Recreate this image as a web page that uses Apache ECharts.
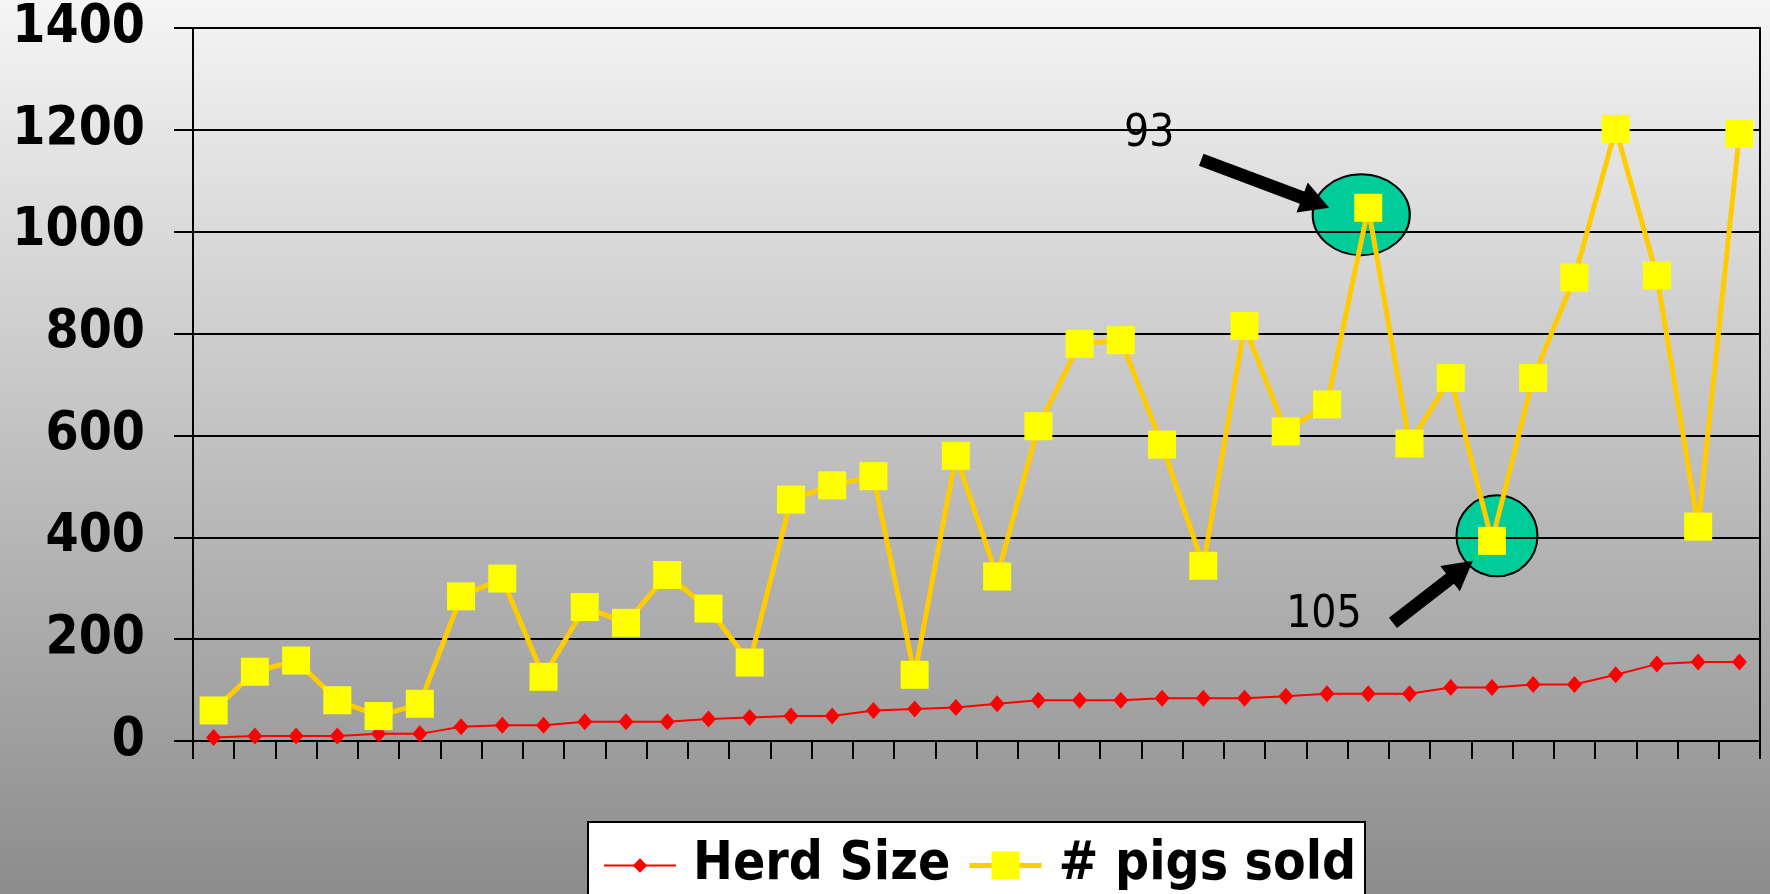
<!DOCTYPE html>
<html>
<head>
<meta charset="utf-8">
<script src="https://cdn.jsdelivr.net/npm/echarts@6/dist/echarts.min.js"></script>
<style>
  html, body { margin: 0; padding: 0; }
  #main {
    width: 1770px;
    height: 894px;
    background: linear-gradient(to bottom, #f5f5f5, #8c8c8c);
  }
</style>
</head>
<body>
<div id="main"></div>
<script>
// one category per sale period (38 of them, unlabelled on the axis)
const periods = ['1', '2', '3', '4', '5', '6', '7', '8', '9', '10',
  '11', '12', '13', '14', '15', '16', '17', '18', '19', '20',
  '21', '22', '23', '24', '25', '26', '27', '28', '29', '30',
  '31', '32', '33', '34', '35', '36', '37', '38'];

const herdSize = [7, 10, 10, 10, 14, 14, 28, 31, 31, 38,
  38, 38, 43, 46, 49, 49, 60, 63, 66, 73,
  80, 80, 80, 84, 84, 84, 88, 93, 93, 93,
  105, 105, 111, 111, 130, 151, 155, 155];

const pigsSold = [60, 136, 158, 80, 49, 73, 284, 319, 126, 263,
  232, 326, 260, 154, 474, 502, 520, 130, 560, 323,
  618, 780, 787, 582, 344, 815, 608, 661, 1047, 584,
  713, 393, 713, 910, 1202, 914, 421, 1192];

const yTicks = [0, 200, 400, 600, 800, 1000, 1200, 1400];

// the two circled points and the herd size written beside them
const callouts = [
  { index: 28, text: '93' },
  { index: 31, text: '105' }
];

const boldFont = '"DejaVu Sans Condensed", "DejaVu Sans", sans-serif';

const chart = echarts.init(document.getElementById('main'));

const legendText = {
  fontSize: 53,
  fontWeight: 'bold',
  fontFamily: boldFont,
  color: '#000',
  padding: [0, 0, 0, 12]
};

const option = {
  animation: false,
  grid: {
    left: 193,
    right: 10,
    top: 28,
    bottom: 153,
    show: true,
    borderColor: '#000',
    borderWidth: 2,
    backgroundColor: 'transparent'
  },
  legend: [
    {
      data: ['Herd Size'],
      left: 603,
      top: 839,
      padding: 0,
      itemWidth: 72,
      itemHeight: 18,
      lineStyle: { width: 2 },
      textStyle: legendText,
      z: 6
    },
    {
      data: ['# pigs sold'],
      left: 967,
      top: 839,
      padding: 0,
      itemWidth: 72,
      itemHeight: 35,
      lineStyle: { width: 5 },
      textStyle: legendText,
      z: 6
    }
  ],
  xAxis: {
    type: 'category',
    data: periods,
    boundaryGap: true,
    axisLine: { lineStyle: { color: '#000', width: 2 } },
    axisTick: { show: true, interval: 0, length: 18, lineStyle: { color: '#000', width: 2 } },
    axisLabel: { show: false },
    splitLine: { show: false }
  },
  yAxis: {
    type: 'value',
    min: yTicks[0],
    max: yTicks[yTicks.length - 1],
    interval: yTicks[1] - yTicks[0],
    axisLine: { show: true, lineStyle: { color: '#000', width: 2 } },
    axisTick: { show: true, length: 19, lineStyle: { color: '#000', width: 2 } },
    axisLabel: {
      margin: 48,
      fontSize: 53,
      fontWeight: 'bold',
      fontFamily: boldFont,
      color: '#000',
      formatter: v => String(v)
    },
    splitLine: { lineStyle: { color: '#000', width: 2 } }
  },
  series: [
    {
      name: 'Herd Size',
      type: 'line',
      data: herdSize,
      symbol: 'diamond',
      symbolSize: [15, 17],
      showAllSymbol: true,
      itemStyle: { color: '#ff0000' },
      lineStyle: { color: '#ff0000', width: 2 }
    },
    {
      name: '# pigs sold',
      type: 'line',
      data: pigsSold,
      symbol: 'rect',
      symbolSize: 28,
      showAllSymbol: true,
      itemStyle: { color: '#ffff00' },
      lineStyle: { color: '#ffcc00', width: 5 },
      markPoint: {
        z: -1,
        symbol: 'circle',
        label: { show: false },
        itemStyle: { color: '#00cc99', borderColor: '#000', borderWidth: 2 },
        data: [
          { coord: [periods[callouts[0].index], pigsSold[callouts[0].index]], symbolSize: [97, 81], symbolOffset: [-7, 7] },
          { coord: [periods[callouts[1].index], pigsSold[callouts[1].index]], symbolSize: [81, 81], symbolOffset: [5, -5] }
        ]
      }
    }
  ]
};

chart.setOption(option);

// arrow polygon from tail to tip
function arrowPoints(tail, tip) {
  const dx = tip[0] - tail[0], dy = tip[1] - tail[1];
  const len = Math.sqrt(dx * dx + dy * dy);
  const ux = dx / len, uy = dy / len;
  const nx = -uy, ny = ux;
  const shaft = 6.5, head = 16, headLen = 29;
  const bx = tip[0] - ux * headLen, by = tip[1] - uy * headLen;
  return [
    [tail[0] + nx * shaft, tail[1] + ny * shaft],
    [bx + nx * shaft, by + ny * shaft],
    [bx + nx * head, by + ny * head],
    tip,
    [bx - nx * head, by - ny * head],
    [bx - nx * shaft, by - ny * shaft],
    [tail[0] - nx * shaft, tail[1] - ny * shaft]
  ];
}

function at(p, dx, dy) {
  return [p[0] + dx, p[1] + dy];
}

const p1 = chart.convertToPixel({ gridIndex: 0 }, [periods[callouts[0].index], pigsSold[callouts[0].index]]);
const p2 = chart.convertToPixel({ gridIndex: 0 }, [periods[callouts[1].index], pigsSold[callouts[1].index]]);

const noteStyle = {
  fontSize: 44,
  fontFamily: boldFont,
  fill: '#000',
  align: 'center',
  verticalAlign: 'middle'
};

chart.setOption({
  graphic: [
    {
      // white legend box, runs off the bottom edge
      type: 'rect',
      left: 587,
      top: 821,
      z: 5,
      shape: { width: 777, height: 100 },
      style: { fill: '#fff', stroke: '#000', lineWidth: 2 }
    },
    {
      type: 'polygon',
      z: 10,
      shape: { points: arrowPoints(at(p1, -167, -48), at(p1, -39, 0)) },
      style: { fill: '#000' }
    },
    {
      type: 'polygon',
      z: 10,
      shape: { points: arrowPoints(at(p2, -99, 82), at(p2, -19, 20)) },
      style: { fill: '#000' }
    },
    {
      type: 'text',
      z: 10,
      x: p1[0] - 219,
      y: p1[1] - 73,
      style: Object.assign({ text: callouts[0].text }, noteStyle)
    },
    {
      type: 'text',
      z: 10,
      x: p2[0] - 168,
      y: p2[1] + 75,
      style: Object.assign({ text: callouts[1].text }, noteStyle)
    }
  ]
});
</script>
</body>
</html>
